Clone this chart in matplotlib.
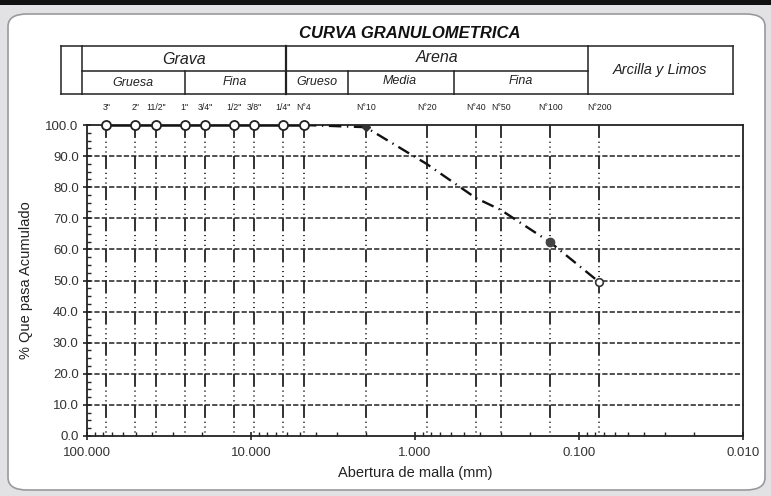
import numpy as np
import matplotlib
matplotlib.use("Agg")
from matplotlib import pyplot as plt
from matplotlib.patches import FancyBboxPatch, Rectangle
from matplotlib.lines import Line2D
from matplotlib.ticker import FixedLocator, MultipleLocator, FormatStrFormatter, LogLocator
import matplotlib.transforms as mtransforms

plt.rcParams['font.family'] = ['Liberation Sans', 'DejaVu Sans']
plt.rcParams['lines.scale_dashes'] = False

# sieve data
sieve_names = ['3"', '2"', '11/2"', '1"', '3/4"', '1/2"', '3/8"', '1/4"', 'N°4',
               'N°10', 'N°20', 'N°40', 'N°50', 'N°100', 'N°200']
sieve_mm = [76.2, 50.8, 38.1, 25.4, 19.05, 12.7, 9.525, 6.35, 4.76,
            2.0, 0.85, 0.425, 0.3, 0.15, 0.075]
pct_pass = [100.0, 100.0, 100.0, 100.0, 100.0, 100.0, 100.0, 100.0, 100.0,
            99.3, 87.5, 76.5, 72.7, 62.3, 49.4]

y_ticks = [0, 10, 20, 30, 40, 50, 60, 70, 80, 90, 100]
x_ticks = [100, 10, 1, 0.1, 0.01]

W, H = 771, 496
fig = plt.figure(figsize=(W / 100, H / 100), dpi=100)
fig.patch.set_facecolor('#e2e2e5')


def px(x, y):
    return x / W, 1 - y / H


# photo background bits
fig.add_artist(Rectangle(px(0, 5), 1, 5 / H, transform=fig.transFigure,
                         facecolor='#111111', edgecolor='none', zorder=-5))
card = FancyBboxPatch(px(8, 490), 757 / W, 476 / H, transform=fig.transFigure,
                      boxstyle="round,pad=0,rounding_size=0.025",
                      facecolor='white', edgecolor='#9a9a9e', lw=1.2, zorder=-5)
fig.add_artist(card)

# title
fig.text(*px(410, 33), 'CURVA GRANULOMETRICA', ha='center', va='center',
         fontsize=12, fontweight='bold', fontstyle='italic', color='#111')


# header table
def hline(x0, x1, y, lw=1.1):
    fig.add_artist(Line2D([x0 / W, x1 / W], [1 - y / H, 1 - y / H],
                          transform=fig.transFigure, color='#222', lw=lw))


def vline(x, y0, y1, lw=1.1):
    fig.add_artist(Line2D([x / W, x / W], [1 - y0 / H, 1 - y1 / H],
                          transform=fig.transFigure, color='#222', lw=lw))


hline(61, 733, 46)
hline(82, 588, 71)
hline(61, 733, 94)
for xx in [61, 82, 588, 733]:
    vline(xx, 46, 94)
vline(286, 46, 94, lw=1.6)
vline(185, 71, 94)
vline(348, 71, 94)
vline(454, 71, 94)

hdr = dict(ha='center', va='center', fontstyle='italic', color='#222')
fig.text(*px(184, 59), 'Grava', fontsize=11.5, **hdr)
fig.text(*px(437, 58), 'Arena', fontsize=11.5, **hdr)
fig.text(*px(660, 70), 'Arcilla y Limos', fontsize=10.5, **hdr)
fig.text(*px(133, 83), 'Gruesa', fontsize=9, **hdr)
fig.text(*px(235, 82), 'Fina', fontsize=9, **hdr)
fig.text(*px(317, 82), 'Grueso', fontsize=9, **hdr)
fig.text(*px(400, 81), 'Media', fontsize=9, **hdr)
fig.text(*px(521, 81), 'Fina', fontsize=9, **hdr)

# main axes
ax = fig.add_axes([87 / W, 1 - 436 / H, 656 / W, 311 / H])
ax.set_zorder(2)
ax.set_facecolor('white')
ax.set_xscale('log')
ax.set_xlim(100, 0.01)
ax.set_ylim(0, 100)

for g in y_ticks[1:-1]:
    ax.axhline(g, color='#222', lw=1.1, dashes=(3.8, 1.5), zorder=1)

for s in sieve_mm:
    ax.axvline(s, color='#222', lw=1.3, zorder=1,
               linestyle=(9.4, (9.4, 2.5, 0.8, 2.7, 0.8, 2.7, 0.8, 2.7)),
               dash_capstyle='butt')

# curve
ax.plot(sieve_mm[8:], pct_pass[8:], color='#111', lw=1.7,
        linestyle=(0, (9, 4, 1, 4)), zorder=3)
ax.plot(sieve_mm[:9], pct_pass[:9], color='#111', lw=1.8, zorder=3)
ax.plot(sieve_mm[:9], pct_pass[:9], 'o', ms=6.5, mfc='white', mec='#222',
        mew=1.3, zorder=4, clip_on=False)
ax.plot(sieve_mm[9:10], pct_pass[9:10], 'D', ms=4, color='#333', zorder=4)
ax.plot(sieve_mm[13:14], pct_pass[13:14], 'o', ms=6, color='#444', zorder=4)
ax.plot(sieve_mm[14:], pct_pass[14:], 'o', ms=5.5, mfc='white', mec='#333',
        mew=1.2, zorder=4)

# sieve labels above plot
trans = mtransforms.blended_transform_factory(ax.transData, ax.transAxes)
for name, s in zip(sieve_names, sieve_mm):
    ax.text(s, 1.056, name, transform=trans, ha='center', va='center',
            fontsize=6.3, color='#222')

# axes styling
for sp in ax.spines.values():
    sp.set_color('#222')
    sp.set_linewidth(1.3)
ax.xaxis.set_major_locator(FixedLocator(x_ticks))
ax.xaxis.set_major_formatter(FormatStrFormatter('%.3f'))
ax.xaxis.set_minor_locator(LogLocator(base=10, subs=np.arange(2, 10)))
ax.xaxis.set_minor_formatter(plt.NullFormatter())
ax.yaxis.set_major_locator(FixedLocator(y_ticks))
ax.yaxis.set_major_formatter(FormatStrFormatter('%.1f'))
ax.yaxis.set_minor_locator(MultipleLocator(2.5))
ax.tick_params(axis='both', which='major', direction='inout', length=6,
               width=1.2, colors='#222', labelsize=9.5, labelcolor='#333')
ax.tick_params(axis='both', which='minor', direction='in', length=3, width=1,
               colors='#222')
ax.tick_params(axis='x', which='major', pad=5)
ax.tick_params(axis='y', which='major', pad=3)

ax.set_xlabel('Abertura de malla (mm)', fontsize=10.5, color='#222', labelpad=5)
ax.set_ylabel('% Que pasa Acumulado', fontsize=10.5, color='#222', labelpad=9)

fig.savefig('out.png', dpi=100, facecolor=fig.get_facecolor())
